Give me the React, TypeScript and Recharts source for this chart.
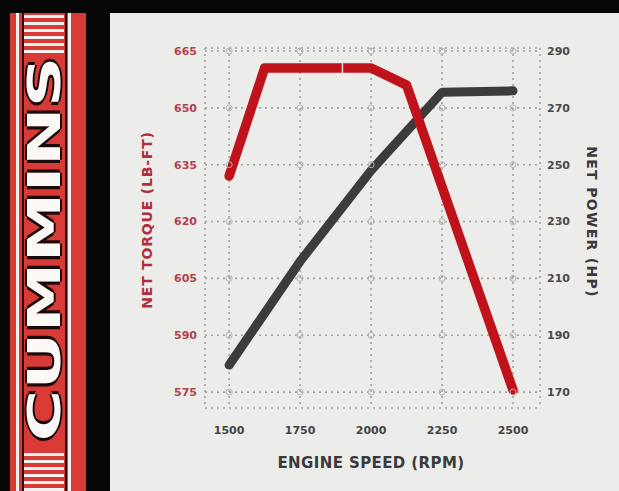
import React from 'react';
import { LineChart, Line, XAxis, YAxis, CartesianGrid, ReferenceDot } from 'recharts';

// engine curves
const torqueRpm = [1500, 1625, 1900, 2000, 2125, 2500];
const torqueLbFt = [632, 660.5, 660.5, 660.5, 656, 575.5];
const powerRpm = [1500, 1750, 2000, 2250, 2500];
const powerHp = [179.5, 216, 248, 275.5, 276];

const rpmTicks = [1500, 1750, 2000, 2250, 2500];
const torqueTicks = [575, 590, 605, 620, 635, 650, 665];
const powerTicks = [170, 190, 210, 230, 250, 270, 290];

const torqueData = torqueRpm.map((rpm, i) => ({ rpm, torque: torqueLbFt[i] }));
const powerData = powerRpm.map((rpm, i) => ({ rpm, power: powerHp[i] }));

const FONT = '"DejaVu Sans", sans-serif';
const RED = '#bf121b';
const DARK = '#3c3c3c';

const tickStyle = (fill: string) => ({ fill, fontSize: 11, fontFamily: FONT, fontWeight: 700 });

// small light notch that sits on the torque curve
const Notch = (props: any) => {
  const { cx, cy, index } = props;
  if (index !== 2) return <g key={props.key} />;
  return <rect key={props.key} x={cx - 1} y={cy - 5} width={1.5} height={10} fill="#eed6d6" />;
};

function Logo() {
  const stripes = [0, 1, 2, 3, 4, 5];
  return (
    <div style={{ position: 'absolute', left: 10, top: 13, width: 76, height: 478, background: '#d83a36', overflow: 'hidden' }}>
      <div style={{ position: 'absolute', left: 6, top: 0, width: 3, height: 478, background: '#f4f0ee' }} />
      <div style={{ position: 'absolute', left: 12, top: 0, width: 2, height: 478, background: '#2a1010' }} />
      <div style={{ position: 'absolute', left: 58, top: 0, width: 3, height: 478, background: '#f4f0ee' }} />
      <div style={{ position: 'absolute', left: 55, top: 0, width: 2, height: 478, background: '#2a1010' }} />
      {stripes.map((s) => (
        <div key={'t' + s} style={{ position: 'absolute', left: 14, top: 2 + s * 7, width: 40, height: 3, background: '#f4f0ee' }} />
      ))}
      {stripes.map((s) => (
        <div key={'b' + s} style={{ position: 'absolute', left: 14, top: 440 + s * 7, width: 40, height: 3, background: '#f4f0ee' }} />
      ))}
      <div
        style={{
          position: 'absolute',
          left: 35,
          top: 236,
          transform: 'translate(-50%, -50%) rotate(-90deg) scaleX(1.6)',
          fontFamily: FONT,
          fontWeight: 700,
          fontSize: 44,
          color: '#fbf8f6',
          whiteSpace: 'nowrap',
          lineHeight: 1,
          textShadow: '2px 0 0 #1a0a0a, -2px 0 0 #1a0a0a, 0 2px 0 #1a0a0a, 0 -2px 0 #1a0a0a',
        }}
      >
        CUMMINS
      </div>
    </div>
  );
}

export default function App() {
  return (
    <div style={{ position: 'fixed', left: 0, top: 0, width: 619, height: 491, background: '#060606', overflow: 'hidden' }}>
      <Logo />
      <div style={{ position: 'absolute', left: 110, top: 13, width: 509, height: 478, background: '#ececea' }} />
      <div style={{ position: 'absolute', left: 0, top: 0 }}>
        <LineChart width={619} height={491} margin={{ top: 48, right: 0, bottom: 0, left: 0 }}>
          <CartesianGrid xAxisId="x" yAxisId="t" stroke="#a2a2a2" strokeWidth={1.6} strokeDasharray="2 4" />
          <XAxis
            xAxisId="x"
            dataKey="rpm"
            type="number"
            domain={[1415, 2595]}
            ticks={rpmTicks}
            axisLine={false}
            tickLine={false}
            tickSize={0}
            tickMargin={18}
            height={83}
            tick={tickStyle('#444')}
          />
          <YAxis
            yAxisId="t"
            orientation="left"
            type="number"
            domain={[570.8, 665.8]}
            ticks={torqueTicks}
            axisLine={false}
            tickLine={false}
            tickSize={0}
            tickMargin={8}
            width={205}
            tick={tickStyle('#b3414c')}
          />
          <YAxis
            yAxisId="p"
            orientation="right"
            type="number"
            domain={[164.4, 291.07]}
            ticks={powerTicks}
            axisLine={false}
            tickLine={false}
            tickSize={0}
            tickMargin={7}
            width={79}
            tick={{ ...tickStyle('#4a4a4a'), textAnchor: 'start' }}
          />
          {rpmTicks.map((rpm) =>
            torqueTicks.map((t) => (
              <ReferenceDot
                key={`${rpm}-${t}`}
                xAxisId="x"
                yAxisId="t"
                x={rpm}
                y={t}
                r={3}
                fill="none"
                stroke="#b4b4b4"
                strokeWidth={1}
              />
            ))
          )}
          <Line
            xAxisId="x"
            yAxisId="p"
            data={powerData}
            dataKey="power"
            type="linear"
            stroke={DARK}
            strokeWidth={9}
            strokeLinejoin="round"
            strokeLinecap="round"
            dot={false}
            isAnimationActive={false}
          />
          <Line
            xAxisId="x"
            yAxisId="t"
            data={torqueData}
            dataKey="torque"
            type="linear"
            stroke={RED}
            strokeWidth={9.5}
            strokeLinejoin="round"
            strokeLinecap="round"
            dot={Notch}
            activeDot={false}
            isAnimationActive={false}
          />
        </LineChart>
      </div>
      <div
        style={{
          position: 'absolute',
          left: 147,
          top: 220,
          transform: 'translate(-50%, -50%) rotate(-90deg)',
          fontFamily: FONT,
          fontWeight: 700,
          fontSize: 14,
          letterSpacing: 0.8,
          color: '#b02e3c',
          whiteSpace: 'nowrap',
          lineHeight: 1,
        }}
      >
        NET TORQUE (LB-FT)
      </div>
      <div
        style={{
          position: 'absolute',
          left: 592,
          top: 222,
          transform: 'translate(-50%, -50%) rotate(90deg)',
          fontFamily: FONT,
          fontWeight: 700,
          fontSize: 14,
          letterSpacing: 1.3,
          color: '#3a3a3a',
          whiteSpace: 'nowrap',
          lineHeight: 1,
        }}
      >
        NET POWER (HP)
      </div>
      <div
        style={{
          position: 'absolute',
          left: 371,
          top: 463,
          transform: 'translate(-50%, -50%)',
          fontFamily: FONT,
          fontWeight: 700,
          fontSize: 15,
          letterSpacing: 0.4,
          color: '#3a3a3a',
          whiteSpace: 'nowrap',
          lineHeight: 1,
        }}
      >
        ENGINE SPEED (RPM)
      </div>
    </div>
  );
}
